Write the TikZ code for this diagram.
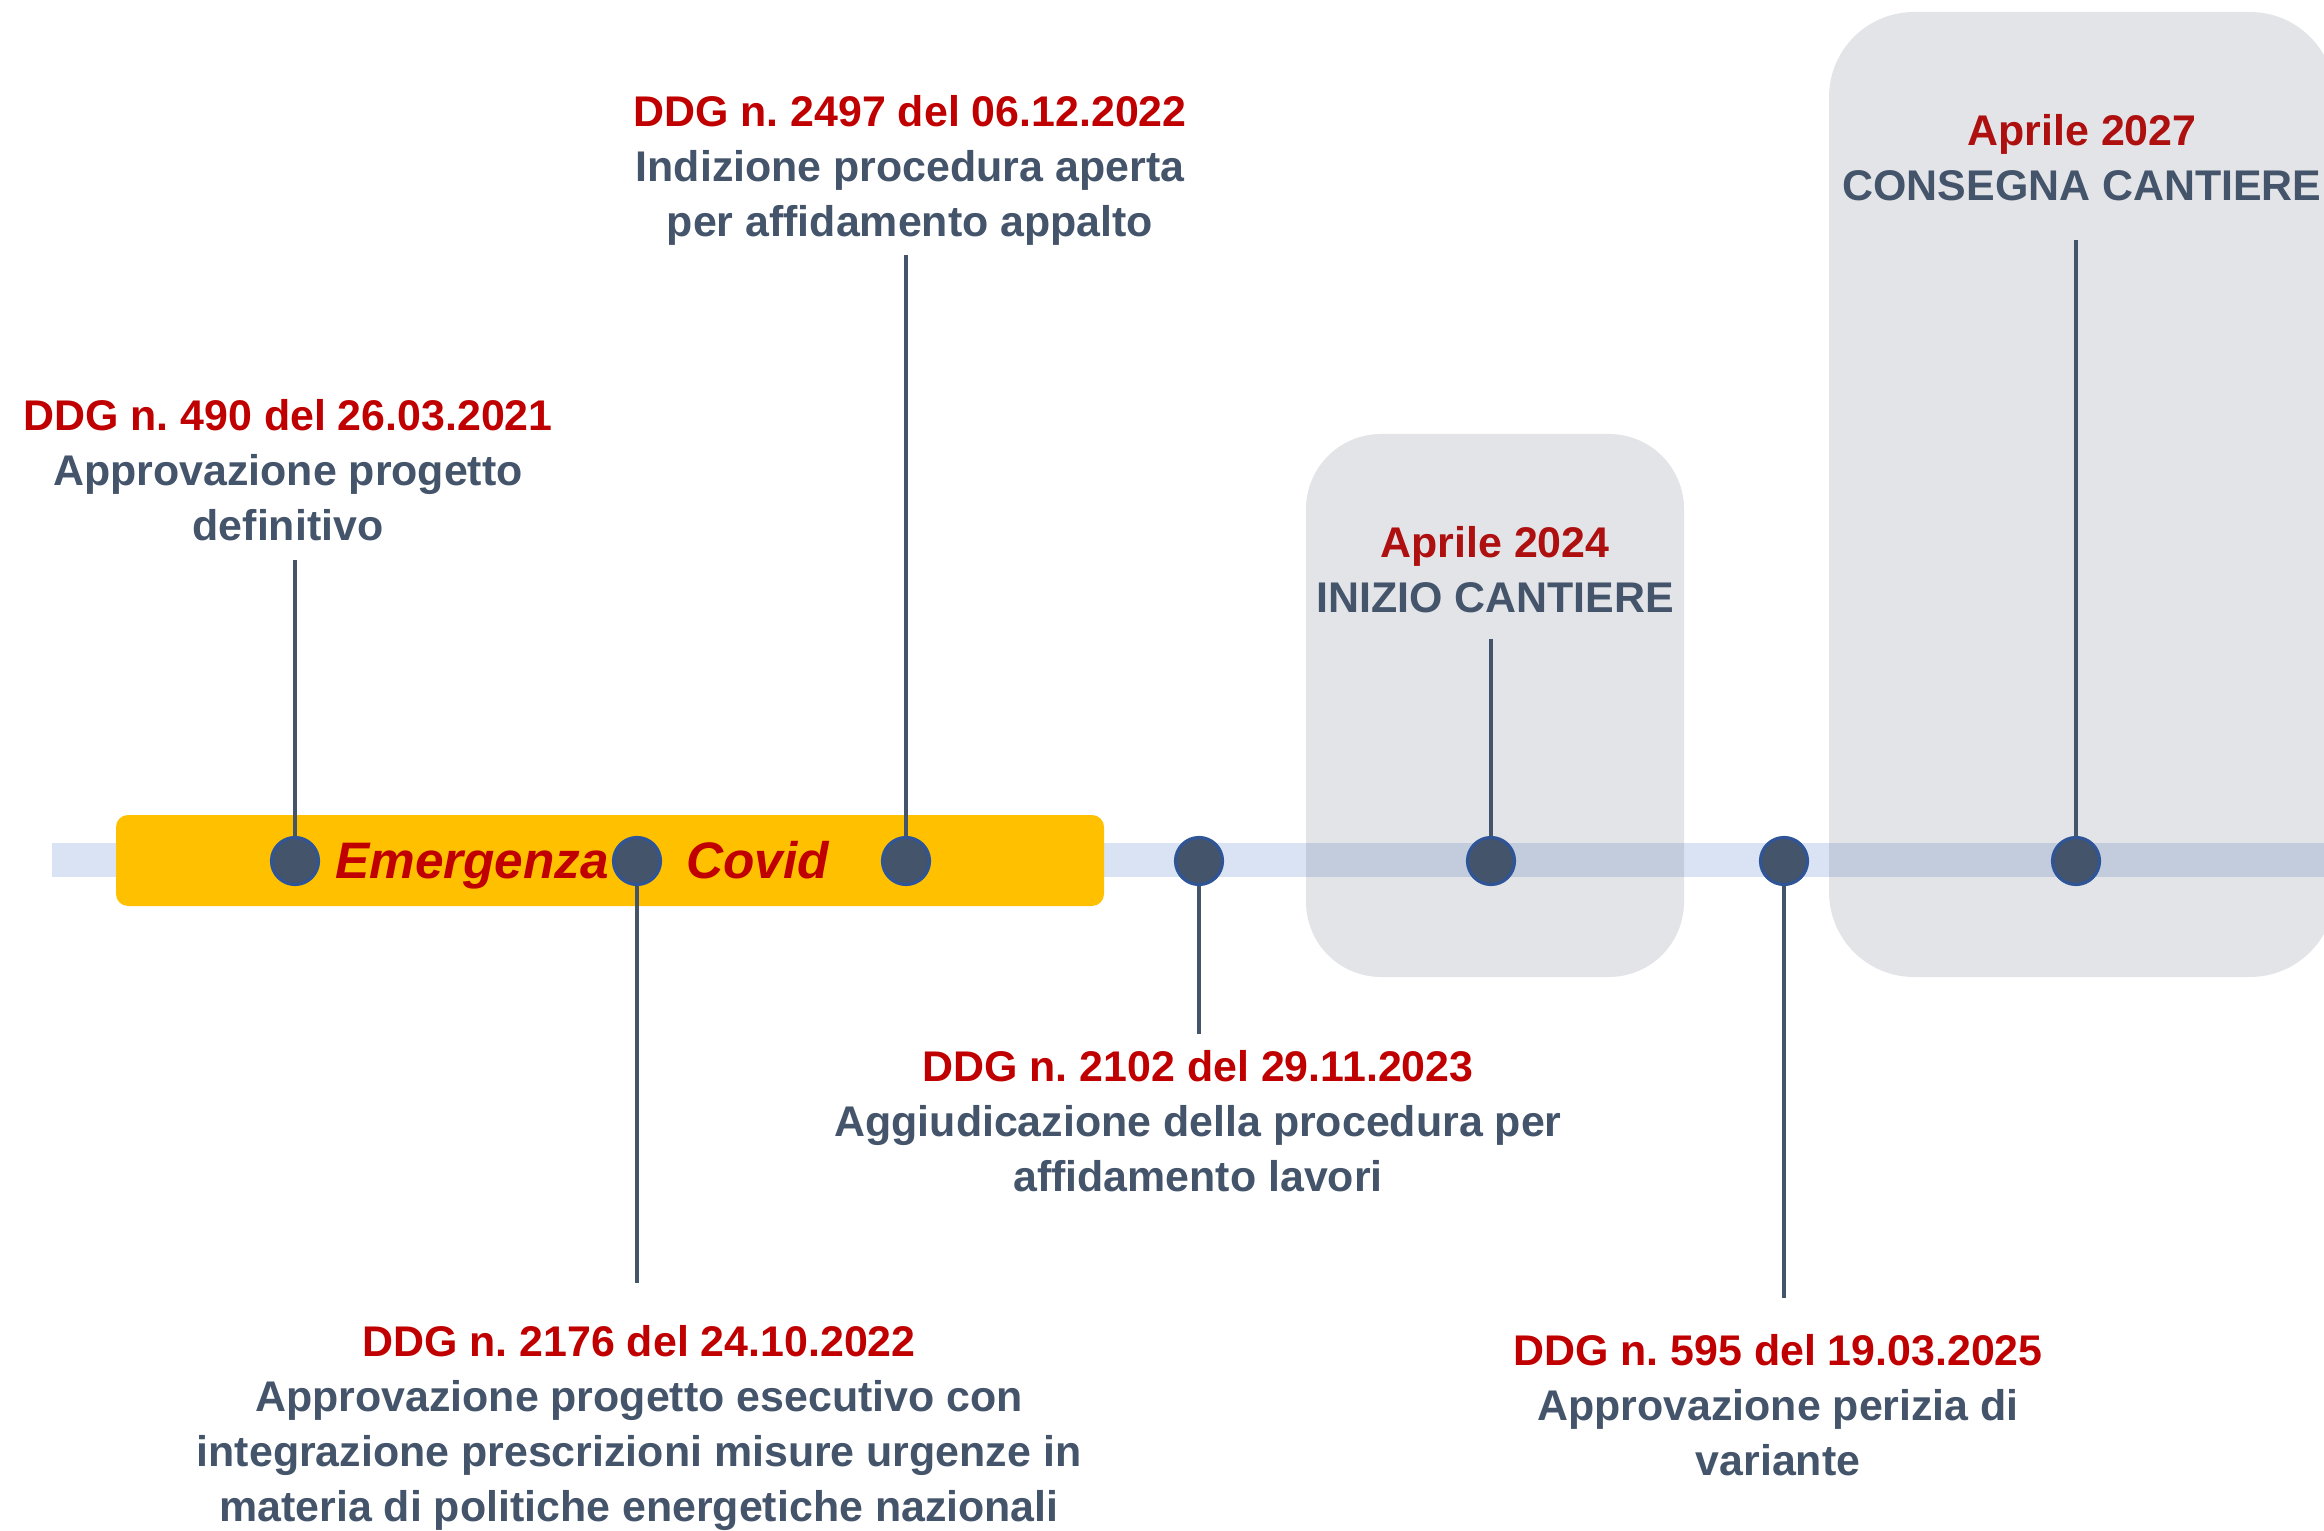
\documentclass[tikz,border=0pt]{standalone}
\usepackage{fontspec}
\setmainfont{Liberation Sans}
\frenchspacing
\definecolor{ddgred}{HTML}{C00000}
\definecolor{aprred}{HTML}{AE0F0F}
\definecolor{txtblue}{HTML}{44546A}
\definecolor{dotedge}{HTML}{2F5597}
\definecolor{barblue}{HTML}{DAE3F3}
\definecolor{covidyellow}{HTML}{FFC000}
\definecolor{boxgray}{HTML}{1E2846}
\begin{document}
\frenchspacing
\begin{tikzpicture}[x=0.01cm,y=-0.01cm,
  dotnode/.style={circle, fill=txtblue, draw=dotedge, line width=0.9pt, minimum size=0.47cm, inner sep=0pt},
  stem/.style={draw=txtblue, line width=1.1pt},
  lbl/.style={anchor=north, align=center, inner sep=0pt, font=\fontsize{12.2}{15.6}\selectfont\bfseries\frenchspacing, text=txtblue},
  phasebox/.style={fill=boxgray, fill opacity=0.12, draw=none}]
\useasboundingbox (0,0) rectangle (2324,1531);
\clip (0,0) rectangle (2324,1531);
\fill[white] (0,0) rectangle (2324,1531);
% timeline bar
\fill[barblue] (52,843) rectangle (2400,877);
% covid band
\fill[covidyellow, rounded corners=0.12cm] (116,815) rectangle (1104,906);
\node[anchor=base, inner sep=0pt, font=\fontsize{14.6}{17}\selectfont\bfseries\itshape, text=ddgred] (covid) at (582,879) {Emergenza\hspace{0.77cm}Covid};
% phase boxes
\fill[phasebox, rounded corners=0.75cm] (1306,434) rectangle (1684,977);
\fill[phasebox, rounded corners=0.85cm] (1829,12) rectangle (2335,977);
% dots
\node[dotnode] (d1) at (295,861) {};
\node[dotnode] (d2) at (637,861) {};
\node[dotnode] (d3) at (906,861) {};
\node[dotnode] (d4) at (1199,861) {};
\node[dotnode] (d5) at (1491,861) {};
\node[dotnode] (d6) at (1784,861) {};
\node[dotnode] (d7) at (2076,861) {};
% stem ends
\coordinate (t1) at (295,560);
\coordinate (t2) at (637,1283);
\coordinate (t3) at (906,255);
\coordinate (t4) at (1199,1034);
\coordinate (t5) at (1491,639);
\coordinate (t6) at (1784,1298);
\coordinate (t7) at (2076,240);
\draw[stem] (d1) -- (t1);
\draw[stem] (d2) -- (t2);
\draw[stem] (d3) -- (t3);
\draw[stem] (d4) -- (t4);
\draw[stem] (d5) -- (t5);
\draw[stem] (d6) -- (t6);
\draw[stem] (d7) -- (t7);
% labels
\node[lbl] (l1) at (288,399) {{\color{ddgred}DDG n. 490 del 26.03.2021}\\Approvazione progetto\\definitivo};
\node[lbl] (l2) at (639,1325) {{\color{ddgred}DDG n. 2176 del 24.10.2022}\\Approvazione progetto esecutivo con\\integrazione prescrizioni misure urgenze in\\materia di politiche energetiche nazionali};
\node[lbl] (l3) at (910,95) {{\color{ddgred}DDG n. 2497 del 06.12.2022}\\Indizione procedura aperta\\per affidamento appalto};
\node[lbl] (l4) at (1198,1050) {{\color{ddgred}DDG n. 2102 del 29.11.2023}\\Aggiudicazione della procedura per\\affidamento lavori};
\node[lbl] (l5) at (1495,526) {{\color{aprred}Aprile 2024}\\INIZIO CANTIERE};
\node[lbl] (l6) at (1778,1334) {{\color{ddgred}DDG n. 595 del 19.03.2025}\\Approvazione perizia di\\variante};
\node[lbl] (l7) at (2082,114) {{\color{aprred}Aprile 2027}\\CONSEGNA CANTIERE};
\end{tikzpicture}
\end{document}
